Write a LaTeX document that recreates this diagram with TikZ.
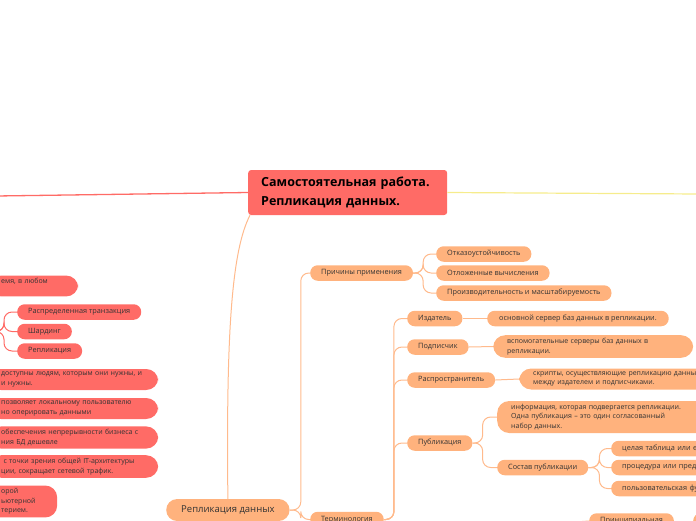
\documentclass[tikz,border=0pt]{standalone}
\usepackage{fontspec}
\setmainfont{Open Sans}
\usepackage{tikz}
\usetikzlibrary{positioning,calc}
\usepackage{xcolor}
\definecolor{mmred}{RGB}{255,107,102}
\definecolor{mmorange}{RGB}{255,178,125}
\definecolor{mmline}{RGB}{255,186,140}
\definecolor{mmyellow}{RGB}{246,236,140}
\definecolor{mmtext}{RGB}{51,51,51}
\tikzset{
    topic/.style={
        fill=mmred,rounded corners=3pt,text width=173pt,minimum height=45pt,
        inner xsep=13pt,align=left,anchor=west,text=black,
        font=\fontsize{12.5}{19}\selectfont\bfseries
    },
    pill/.style={
        fill=#1,rounded corners=7.5pt,minimum height=15.5pt,inner xsep=11pt,
        inner ysep=2pt,anchor=west,text=mmtext,font=\fontsize{7.3}{9.5}\selectfont
    },
    pill/.default=mmorange,
    note/.style={
        pill=#1,rounded corners=12pt,align=left,inner xsep=14pt,inner ysep=3pt,
        font=\fontsize{7}{9.5}\selectfont
    },
    note/.default=mmorange,
    link/.style={
        draw=#1,line width=1pt,rounded corners=8pt
    },
    link/.default=mmline
}

\begin{document}
\begin{tikzpicture}[x=1pt,y=-1pt]
\useasboundingbox (0,0) rectangle (696,520);
\clip (0,0) rectangle (696,520);

% centre
\node[topic] (title) at (248,192.5)
{Самостоятельная работа.\\Репликация данных.};
\coordinate (lft) at (-4,196);
\coordinate (rgt) at (700,194);

% left branch (red)
\node[note=mmred,inner xsep=12pt,text width=65pt] (red0) at (-11,286)
{емя, в любом\\\mbox{}};
\coordinate (redj) at (-2,331.5);
\node[pill=mmred] (rt1) at (17,312) {Распределенная транзакция};
\node[pill=mmred] (rt2) at (17,331.5) {Шардинг};
\node[pill=mmred] (rt3) at (17,351) {Репликация};
\node[note=mmred,inner xsep=12pt,text width=145pt] (red1) at (-11,379.5)
{доступны людям, которым они нужны, и\\и нужны.};
\node[note=mmred,inner xsep=12pt,text width=145pt] (red2) at (-11,408.5)
{позволяет локальному пользователю\\но оперировать данными};
\node[note=mmred,inner xsep=12pt,text width=145pt] (red3) at (-11,437.5)
{обеспечения непрерывности бизнеса с\\ния БД дешевле};
\node[note=mmred,inner xsep=12pt,text width=145pt] (red4) at (-11,466.5)
{\ с точки зрения общей IT-архитектуры\\ции, сокращает сетевой трафик.};
\node[note=mmred,inner xsep=12pt,text width=44pt] (red5) at (-11,501.5)
{орой\\ьютерной\\терием.};

% right branch (orange)
\node[pill,font=\fontsize{9.5}{11}\selectfont,minimum height=22pt,
inner xsep=15pt,rounded corners=11pt] (rep) at (166,510) {Репликация данных};

\node[pill] (why) at (310,273) {Причины применения};
\node[pill] (why1) at (436,254) {Отказоустойчивость};
\node[pill] (why2) at (436,273) {Отложенные вычисления};
\node[pill] (why3) at (436,293) {Производительность и масштабируемость};

\node[pill] (term) at (310,519.5) {Терминология};
\node[pill] (izd) at (407,318.5) {Издатель};
\node[pill,inner xsep=12pt] (izdd) at (487,318.5)
{основной сервер баз данных в репликации.};
\node[pill] (sub) at (407,347) {Подписчик};
\node[note,text width=172pt] (subd) at (493,346.5)
{вспомогательные серверы баз данных в\\репликации.};
\node[pill] (dist) at (407,380) {Распространитель};
\node[note,text width=200pt] (distd) at (519,379)
{скрипты, осуществляющие репликацию данных\\между издателем и подписчиками.};
\node[pill] (pub) at (407,443) {Публикация};
\node[note,text width=185pt] (pubd) at (497,417)
{информация, которая подвергается репликации.\\
Одна публикация -- это один согласованный\\набор данных.};
\node[pill] (sost) at (497,467.5) {Состав публикации};
\node[pill,text width=130pt] (sost1) at (611,448.5) {целая таблица или ее};
\node[pill,text width=130pt] (sost2) at (611,467.5) {процедура или представление};
\node[pill,text width=130pt] (sost3) at (611,488.5) {пользовательская функция};

\coordinate (prj) at (575,522);
\node[pill] (pr) at (589,521) {Принципиальная};
\node[pill,minimum width=40pt] (prx) at (693,521) {};

% connectors
\draw[link=mmred,line width=1.3pt] (title.west) -- (lft);
\draw[link=mmyellow,line width=1.2pt] (title.east) -- (rgt);
\draw[link] ([xshift=2pt]title.south west) .. controls (232,250) and (226,330) .. (rep.north);

\foreach \n in {rt1,rt2,rt3}
    \draw[link=mmred] (redj) -- ++(6,0) |- (\n.west);

\foreach \n in {why,term}
    \draw[link] (rep.east) -- ++(11,0) |- (\n.west);
\foreach \n in {why1,why2,why3}
    \draw[link] (why.east) -- ++(10,0) |- (\n.west);
\foreach \n in {izd,sub,dist,pub}
    \draw[link] (term.east) -- ++(10,0) |- (\n.west);
\draw[link] (izd.east) -- (izdd.west);
\draw[link] (sub.east) -- (subd.west);
\draw[link] (dist.east) -- (distd.west);
\foreach \n in {pubd,sost}
    \draw[link] (pub.east) -- ++(10,0) |- (\n.west);
\foreach \n in {sost1,sost2,sost3}
    \draw[link] (sost.east) -- ++(11,0) |- (\n.west);
\draw[link] (prj) -- (pr.west);
\draw[link] (pr.east) -- (prx.west);

\end{tikzpicture}
\end{document}
